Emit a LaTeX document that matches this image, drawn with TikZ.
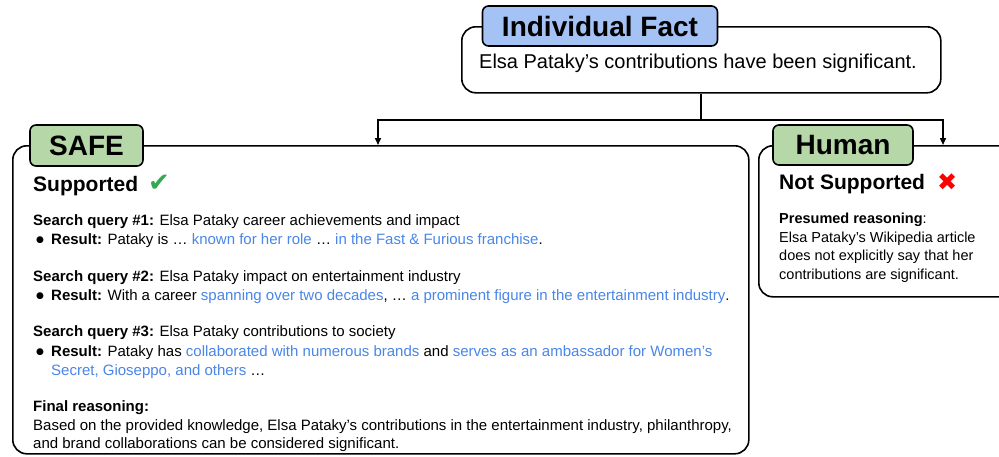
\documentclass[tikz,border=0pt]{standalone}
\usepackage{fontspec}
\setmainfont{Liberation Sans}
\newfontfamily\symf{DejaVu Sans}
\usetikzlibrary{arrows.meta,positioning}
\definecolor{tabblue}{HTML}{A4C2F4}
\definecolor{tabgreen}{HTML}{B6D7A8}
\definecolor{linkblue}{HTML}{4A86E8}
\definecolor{okgreen}{HTML}{34A853}
\definecolor{badred}{HTML}{FF0000}
\newcommand{\lk}[1]{\textcolor{linkblue}{#1}}
\newcommand{\sq}{{\char"27}}
\tikzset{
  bigbox/.style={draw, line width=1.6pt, rounded corners=14pt, fill=white, inner sep=0pt, anchor=north west},
  tabbox/.style={draw, line width=1.6pt, rounded corners=6pt, inner sep=0pt, font=\bfseries\fontsize{28}{30}\selectfont},
  conn/.style={line width=1.5pt, -{Triangle[length=7pt,width=6pt]}},
  txt/.style={anchor=west, inner sep=0pt, font=\fontsize{15}{19}\selectfont},
  bul/.style={anchor=west, inner sep=0pt, font=\symf\fontsize{9}{10}\selectfont},
  htxt/.style={anchor=north west, inner sep=0pt, align=left, font=\fontsize{14.5}{18.6}\selectfont},
}
\begin{document}
\begin{tikzpicture}[x=1pt,y=-1pt]
\useasboundingbox (0,0) rectangle (999,456);
% fact
\node[bigbox, minimum width=479pt, minimum height=66pt] (fact) at (461,26) {};
\node[tabbox, fill=tabblue, minimum width=235pt, minimum height=40pt] (facttab) at (600,26) {Individual Fact};
\node[inner sep=0pt, font=\fontsize{20}{22}\selectfont] (facttxt) at (698,63) {Elsa Pataky’s contributions have been significant.};
% SAFE
\node[bigbox, minimum width=736pt, minimum height=308pt] (safe) at (12,145) {};
\node[tabbox, fill=tabgreen, minimum width=113pt, minimum height=41pt] (safetab) at (86.5,145.5) {SAFE};
% Human
\node[bigbox, minimum width=260pt, minimum height=151pt] (human) at (758,145) {};
\node[tabbox, fill=tabgreen, minimum width=140pt, minimum height=40pt] (humantab) at (843,145) {Human};
% connectors
\coordinate (junc) at (701,120);
\coordinate (safein) at (378,145);
\coordinate (humin) at (943,145);
\draw[line width=1.5pt] (fact.south -| junc) -- (junc);
\draw[conn] (junc) -| (safein);
\draw[conn] (junc) -| (humin);
% SAFE content
\node[anchor=west, inner sep=0pt, font=\bfseries\fontsize{21}{24}\selectfont] (sup) at (33,186) {Supported};
\node[anchor=west, inner sep=0pt, text=okgreen, font=\symf\fontsize{26}{28}\selectfont] (chk) at (148,183) {✔};
\node[txt] (q1) at (33,221.5) {\textbf{Search query \#1:} Elsa Pataky career achievements and impact};
\node[bul] (b1) at (36,240.5) {●};
\node[txt] (r1) at (51,240.5) {\textbf{Result:} Pataky is … \lk{known for her role} … \lk{in the Fast \& Furious franchise}.};
\node[txt] (q2) at (33,277.5) {\textbf{Search query \#2:} Elsa Pataky impact on entertainment industry};
\node[bul] (b2) at (36,296.5) {●};
\node[txt] (r2) at (51,296.5) {\textbf{Result:} With a career \lk{spanning over two decades}, … \lk{a prominent figure in the entertainment industry}.};
\node[txt] (q3) at (33,332.5) {\textbf{Search query \#3:} Elsa Pataky contributions to society};
\node[bul] (b3) at (36,352.5) {●};
\node[txt] (r3) at (51,352.5) {\textbf{Result:} Pataky has \lk{collaborated with numerous brands} and \lk{serves as an ambassador for Women\sq s}};
\node[txt] (r3b) at (51,371.5) {\lk{Secret, Gioseppo, and others} …};
\node[txt] (fr) at (33,407.5) {\textbf{Final reasoning:}};
\node[txt] (fr1) at (33,426.5) {Based on the provided knowledge, Elsa Pataky\sq s contributions in the entertainment industry, philanthropy,};
\node[txt] (fr2) at (33,444.5) {and brand collaborations can be considered significant.};
% Human content
\node[anchor=west, inner sep=0pt, font=\bfseries\fontsize{21}{24}\selectfont] (nsup) at (779,184) {Not Supported};
\node[anchor=west, inner sep=0pt, text=badred, font=\symf\fontsize{24}{26}\selectfont] (xmk) at (937,182) {✖};
\node[htxt] (pr) at (779,213) {\textbf{Presumed reasoning}:\\Elsa Pataky’s Wikipedia article\\does not explicitly say that her\\contributions are significant.};
\end{tikzpicture}
\end{document}
